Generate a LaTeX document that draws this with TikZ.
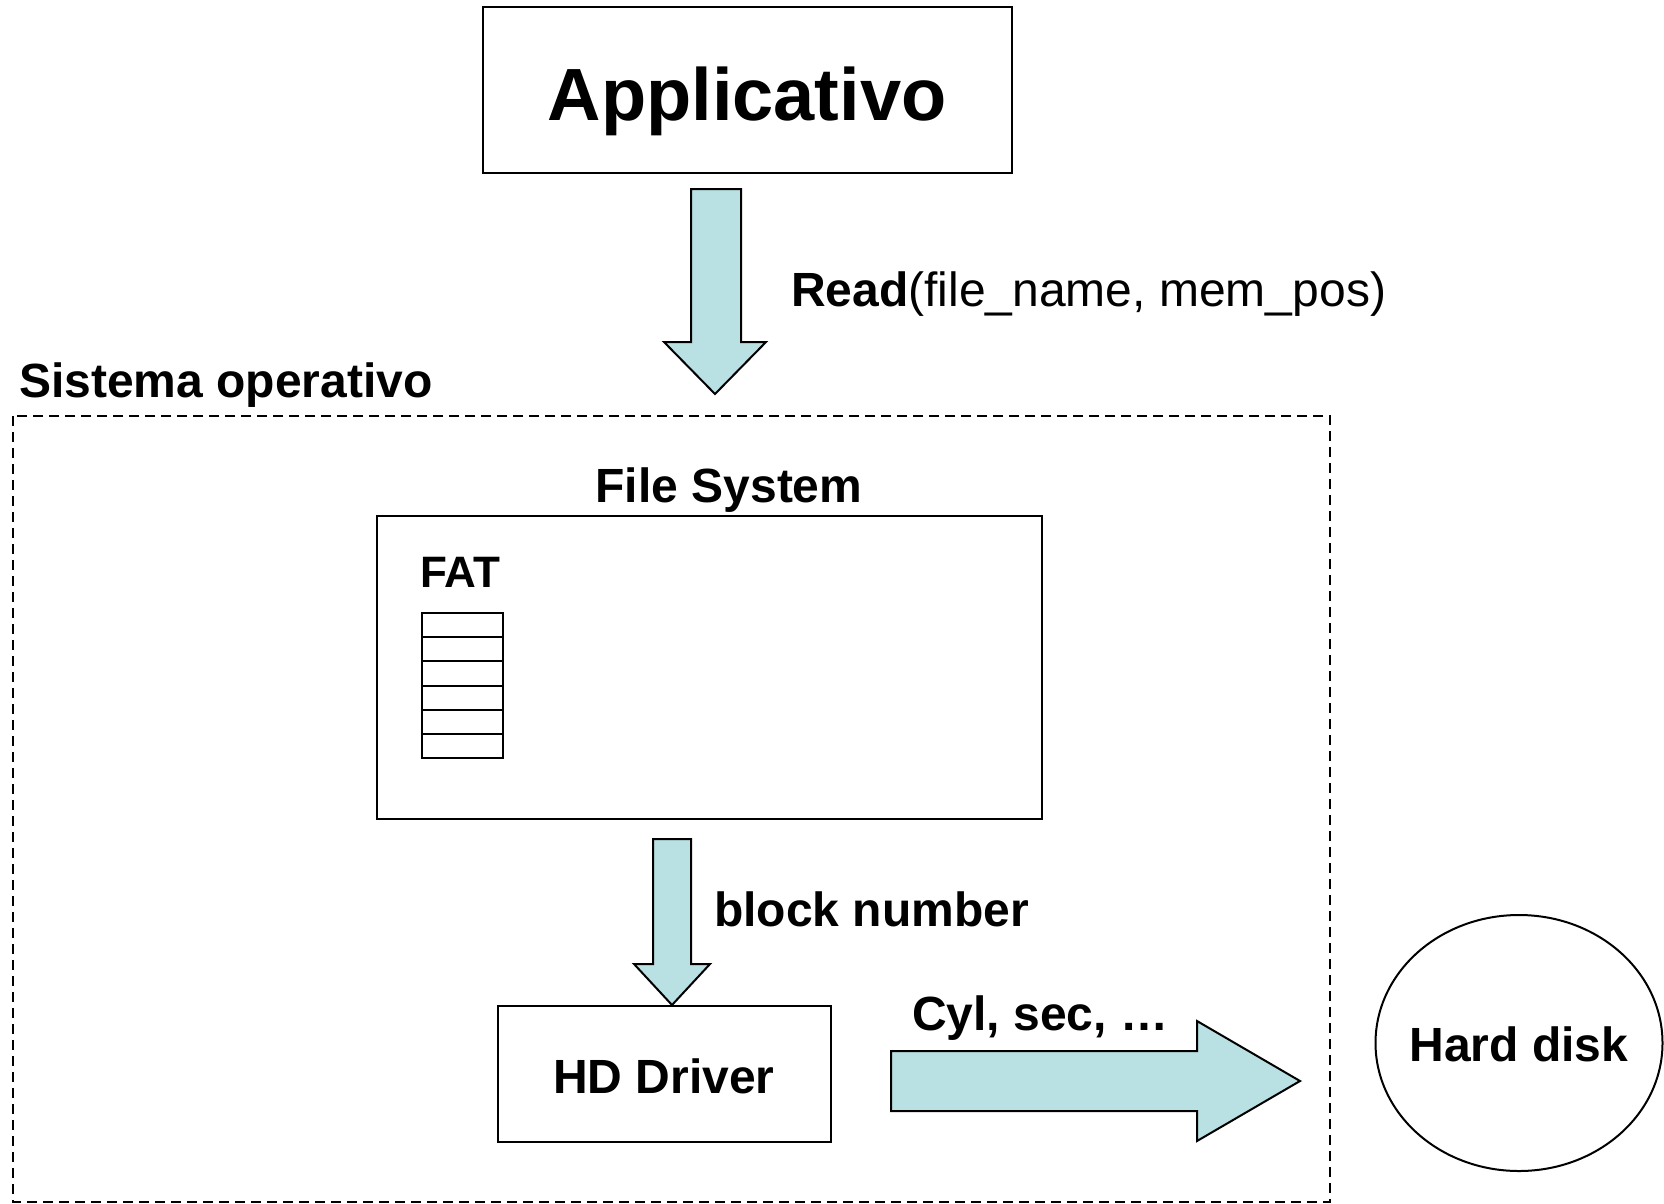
\documentclass[tikz,border=0pt]{standalone}
\usepackage{fontspec}
\setmainfont{Liberation Sans}
\usetikzlibrary{shapes.geometric}
\definecolor{arrowfill}{RGB}{185,224,227}
\tikzset{
  box/.style={draw, line width=2pt, inner sep=0pt},
  blockarrow/.style={draw, line width=2pt, fill=arrowfill, line join=miter},
  lbl/.style={inner sep=0pt, font=\fontsize{48}{56}\selectfont\bfseries},
}
\begin{document}
\begin{tikzpicture}[x=1pt, y=-1pt]
\useasboundingbox (0,0) rectangle (1664,1203);

% application box
\node[box, minimum width=529pt, minimum height=166pt] (app) at (747.5,90) {};
\node[inner sep=0pt, anchor=base, font=\fontsize{74}{80}\selectfont\bfseries] (apptext) at (747,120) {Applicativo};

% read call arrow
\draw[blockarrow] (691,189) -- (741,189) -- (741,342) -- (766,342) -- (715,394)
  -- (664,342) -- (691,342) -- cycle;
\node[inner sep=0pt, anchor=base west, font=\fontsize{48}{56}\selectfont] (readlbl) at (791,306) {\textbf{Read}(file\_name, mem\_pos)};

% operating system boundary
\node[lbl, anchor=base west] (oslbl) at (19,397) {Sistema operativo};
\draw[line width=2pt, dash pattern=on 10pt off 6pt] (13,416) rectangle (1330,1202);

% file system
\node[lbl, anchor=base] (fslbl) at (729,502) {File System};
\node[box, minimum width=665pt, minimum height=303pt] (fs) at (709.5,667.5) {};
\node[inner sep=0pt, anchor=base west, font=\fontsize{44}{50}\selectfont\bfseries] (fatlbl) at (420,587) {FAT};
\foreach \i in {0,...,5} {
  \node[box, minimum width=81pt, minimum height=24.2pt] (fat\i) at (462.5,{625.1+24.2*\i}) {};
}

% block number arrow
\draw[blockarrow] (653,839) -- (691,839) -- (691,964) -- (710,964) -- (672,1005)
  -- (634,964) -- (653,964) -- cycle;
\node[lbl, anchor=base west] (blklbl) at (714,926) {block number};

% disk driver
\node[box, minimum width=333pt, minimum height=136pt] (hd) at (664.5,1074) {};
\node[lbl, anchor=base] (hdtext) at (664,1093) {HD Driver};

% cylinder/sector arrow
\draw[blockarrow] (891,1051) -- (1197,1051) -- (1197,1021) -- (1300,1081)
  -- (1197,1141) -- (1197,1111) -- (891,1111) -- cycle;
\node[lbl, anchor=base west] (cyllbl) at (912,1030) {Cyl, sec, …};

% hard disk
\node[ellipse, draw, line width=2pt, minimum width=287pt, minimum height=256pt, inner sep=0pt] (disk) at (1519,1043) {};
\node[lbl, anchor=base] (disktext) at (1519,1061) {Hard disk};
\end{tikzpicture}
\end{document}
